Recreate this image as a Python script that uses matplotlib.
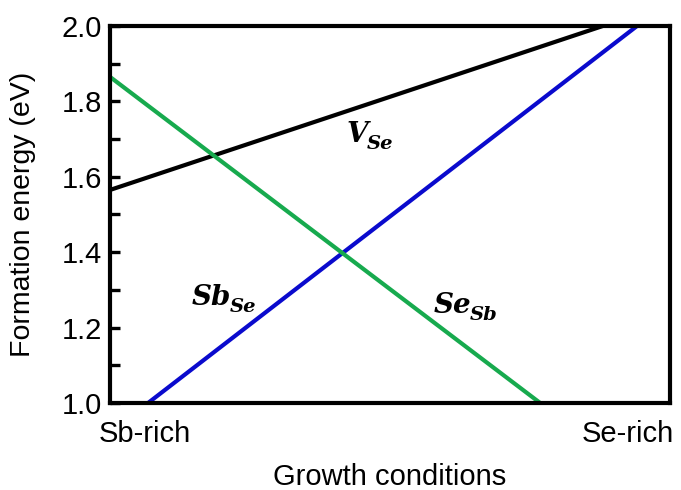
import matplotlib

matplotlib.use("Agg")
import matplotlib.pyplot as plt
from matplotlib.ticker import FormatStrFormatter, MultipleLocator

plt.rcParams["font.family"] = ["Liberation Sans", "DejaVu Sans"]

# growth condition axis: 0 = Sb-rich, 1 = Se-rich
v_se_x = [0.0, 0.88]
v_se_y = [1.565, 2.0]
sb_se_x = [0.068, 0.941]
sb_se_y = [1.0, 2.0]
se_sb_x = [0.0, 0.768]
se_sb_y = [1.865, 1.0]

cond_ticks = [0.062, 0.925]
cond_labels = ["Sb-rich", "Se-rich"]

# defect labels: (main, subscript, x, y of baseline)
defect_labels = [
    ("V", "Se", 0.423, 1.692),
    ("Sb", "Se", 0.146, 1.260),
    ("Se", "Sb", 0.577, 1.239),
]

fig = plt.figure(figsize=(6.81, 4.90), dpi=100)
ax = fig.add_axes([0.1615, 0.1776, 0.8225, 0.7694])

ax.plot(v_se_x, v_se_y, color="black", lw=3, solid_capstyle="butt")
ax.plot(sb_se_x, sb_se_y, color="#0a0acd", lw=3, solid_capstyle="butt")
ax.plot(se_sb_x, se_sb_y, color="#17aa4e", lw=3, solid_capstyle="butt")

ax.set_xlim(0, 1)
ax.set_ylim(1.0, 2.0)
ax.yaxis.set_major_locator(MultipleLocator(0.2))
ax.yaxis.set_minor_locator(MultipleLocator(0.1))
ax.yaxis.set_major_formatter(FormatStrFormatter("%.1f"))
ax.tick_params(axis="y", which="major", direction="in", length=7, width=2.4,
               labelsize=21, pad=6)
ax.tick_params(axis="y", which="minor", direction="in", length=7, width=2.4)
ax.set_xticks(cond_ticks)
ax.set_xticklabels(cond_labels)
ax.tick_params(axis="x", length=0, labelsize=21, pad=12)
for sp in ax.spines.values():
    sp.set_linewidth(3)

ax.set_xlabel("Growth conditions", fontsize=21, labelpad=11)
ax.set_ylabel("Formation energy (eV)", fontsize=20.5, labelpad=18)

font = dict(family="DejaVu Serif", weight="bold", style="italic")
for main, sub, x, y in defect_labels:
    t = ax.text(x, y, main, fontsize=20, ha="left", va="baseline", **font)
    ax.annotate(sub, xy=(1, 0), xycoords=t, xytext=(-1, -1), textcoords="offset points",
                fontsize=14, ha="left", va="baseline", **font)

fig.savefig("out.png", dpi=100)
